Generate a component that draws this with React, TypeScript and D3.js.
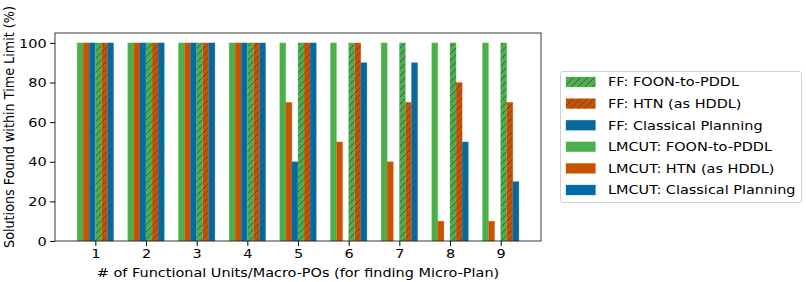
import React, { useEffect, useRef } from 'react';
import * as d3 from 'd3';

const groups = [1, 2, 3, 4, 5, 6, 7, 8, 9];
const lmcutFoon = [100, 100, 100, 100, 100, 100, 100, 100, 100];
const lmcutHtn = [100, 100, 100, 100, 70, 50, 40, 10, 10];
const lmcutClassical = [100, 100, 100, 100, 40, 0, 0, 0, 0];
const ffFoon = [100, 100, 100, 100, 100, 100, 100, 100, 100];
const ffHtn = [100, 100, 100, 100, 100, 100, 70, 80, 70];
const ffClassical = [100, 100, 100, 100, 100, 90, 90, 50, 30];
const yTicks = [0, 20, 40, 60, 80, 100];

const GREEN = '#4cae4c';
const ORANGE = '#c85200';
const BLUE = '#006ba4';

// bar order inside a group, left to right
const series = [
  { name: 'LMCUT: FOON-to-PDDL', values: lmcutFoon, color: GREEN, hatch: false },
  { name: 'LMCUT: HTN (as HDDL)', values: lmcutHtn, color: ORANGE, hatch: false },
  { name: 'LMCUT: Classical Planning', values: lmcutClassical, color: BLUE, hatch: false },
  { name: 'FF: FOON-to-PDDL', values: ffFoon, color: GREEN, hatch: true },
  { name: 'FF: HTN (as HDDL)', values: ffHtn, color: ORANGE, hatch: true },
  { name: 'FF: Classical Planning', values: ffClassical, color: BLUE, hatch: true },
];
const legendOrder = [3, 4, 5, 0, 1, 2];

const W = 806;
const H = 282;
const FONT = 'DejaVu Sans, sans-serif';
const FS = 12.8;
const SX = 1.13; // the source image is a bit stretched horizontally

const App: React.FC = () => {
  const svgRef = useRef<SVGSVGElement>(null);

  useEffect(() => {
    if (!svgRef.current) return;
    const svg = d3.select(svgRef.current);
    svg.selectAll('*').remove();

    const left = 55, right = 541, top = 33, bottom = 241;
    const x = d3.scaleLinear().domain([0.204, 9.796]).range([left, right]);
    const y = d3.scaleLinear().domain([0, 105]).range([bottom, top]);
    const bw = 0.12;

    // hatch patterns
    const defs = svg.append('defs');
    series.filter(s => s.hatch).forEach(s => {
      const p = defs.append('pattern')
        .attr('id', 'hatch-' + s.color.slice(1))
        .attr('patternUnits', 'userSpaceOnUse')
        .attr('width', 7).attr('height', 7);
      p.append('rect').attr('width', 7).attr('height', 7).attr('fill', s.color);
      p.append('path')
        .attr('d', 'M0,7 L7,0 M-1,1 L1,-1 M6,8 L8,6')
        .attr('stroke', '#4a4a4a').attr('stroke-width', 0.9);
    });

    // bars
    series.forEach((s, i) => {
      svg.append('g').selectAll('rect')
        .data(s.values.map((v, j) => ({ v, g: groups[j] })))
        .enter().append('rect')
        .attr('x', d => x(d.g + (i - 3) * bw))
        .attr('width', x(bw) - x(0))
        .attr('y', d => y(d.v))
        .attr('height', d => y(0) - y(d.v))
        .attr('fill', s.hatch ? `url(#hatch-${s.color.slice(1)})` : s.color)
        .attr('stroke', d3.color(s.color)!.brighter(0.6).formatHex())
        .attr('stroke-opacity', 0.5)
        .attr('stroke-width', 0.6);
    });

    // frame
    svg.append('rect')
      .attr('x', left).attr('y', top)
      .attr('width', right - left).attr('height', bottom - top)
      .attr('fill', 'none').attr('stroke', '#222').attr('stroke-width', 0.9);

    // x axis
    const xa = svg.append('g').attr('transform', `translate(0,${bottom})`)
      .call(d3.axisBottom(x).tickValues(groups).tickFormat(d3.format('d')).tickSize(4.9).tickPadding(3.5));
    xa.select('.domain').remove();
    xa.selectAll('text')
      .attr('font-size', FS).attr('font-family', FONT).attr('fill', '#000')
      .attr('transform', `scale(${SX},1)`);

    // y axis
    const ya = svg.append('g').attr('transform', `translate(${left},0)`)
      .call(d3.axisLeft(y).tickValues(yTicks).tickSize(4.9).tickPadding(3.5));
    ya.select('.domain').remove();
    ya.selectAll('.tick text')
      .attr('font-size', FS).attr('font-family', FONT).attr('fill', '#000')
      .attr('x', 0)
      .attr('transform', `translate(-8.4,0) scale(${SX},1)`);

    // axis labels
    svg.append('text')
      .attr('transform', `translate(${(left + right) / 2},277) scale(${SX},1)`)
      .attr('text-anchor', 'middle')
      .attr('font-size', FS).attr('font-family', FONT)
      .text('# of Functional Units/Macro-POs (for finding Micro-Plan)');

    svg.append('text')
      .attr('transform', `translate(14,127) scale(${SX},1) rotate(-90)`)
      .attr('text-anchor', 'middle')
      .attr('font-size', FS).attr('font-family', FONT)
      .text('Solutions Found within Time Limit (%)');

    // legend
    const lg = svg.append('g');
    lg.append('rect')
      .attr('x', 560.5).attr('y', 71.5).attr('width', 241).attr('height', 131)
      .attr('rx', 2.5)
      .attr('fill', '#fff').attr('fill-opacity', 0.8)
      .attr('stroke', '#d0d0d0').attr('stroke-width', 1);
    legendOrder.forEach((si, k) => {
      const s = series[si];
      const cy = 82 + k * 21.6;
      lg.append('rect')
        .attr('x', 566).attr('y', cy - 5).attr('width', 29.5).attr('height', 10)
        .attr('fill', s.hatch ? `url(#hatch-${s.color.slice(1)})` : s.color)
        .attr('stroke', d3.color(s.color)!.brighter(0.6).formatHex())
        .attr('stroke-opacity', 0.5).attr('stroke-width', 0.6);
      lg.append('text')
        .attr('transform', `translate(608,${cy}) scale(${SX},1)`)
        .attr('dy', '0.35em')
        .attr('font-size', FS).attr('font-family', FONT)
        .text(s.name);
    });
  }, []);

  return (
    <svg ref={svgRef} width={W} height={H}
      style={{ position: 'absolute', left: 0, top: 0, background: '#fff' }} />
  );
};

export default App;
